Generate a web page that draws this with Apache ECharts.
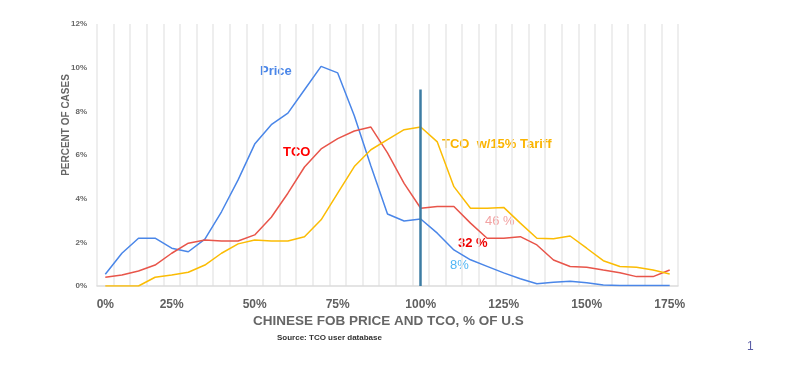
<!DOCTYPE html>
<html>
<head>
<meta charset="utf-8">
<script src="https://cdn.jsdelivr.net/npm/echarts@6/dist/echarts.min.js"></script>
<style>
html,body{margin:0;padding:0;background:#fff;}
#chart{width:800px;height:374px;}
</style>
</head>
<body>
<div id="chart"></div>
<script>
// Bins of Chinese FOB price / TCO as % of U.S.
const categories = ['0%','6%','12%','19%','25%','30%','35%','40%','45%','50%','55%','60%','65%','70%','75%','80%','85%','90%','95%','100%','105%','110%','115%','120%','125%','130%','135%','140%','145%','150%','155%','160%','165%','170%','175%'];
const tickLabels = ['0%','25%','50%','75%','100%','125%','150%','175%'];
// Percent of cases
const priceValues = [0.54,1.5,2.19,2.19,1.73,1.57,2.15,3.4,4.86,6.5,7.39,7.92,8.99,10.06,9.76,7.8,5.5,3.3,2.98,3.07,2.42,1.65,1.2,0.9,0.6,0.33,0.1,0.17,0.22,0.15,0.05,0.02,0.02,0.02,0.02];
const tcoValues = [0.4,0.5,0.69,0.96,1.5,1.96,2.11,2.06,2.06,2.34,3.15,4.25,5.45,6.28,6.75,7.1,7.28,6.1,4.7,3.56,3.64,3.64,2.88,2.19,2.19,2.26,1.88,1.19,0.89,0.86,0.73,0.61,0.43,0.43,0.73];
const tariffValues = [0,0,0,0.4,0.5,0.63,0.96,1.5,1.93,2.11,2.06,2.06,2.26,3.03,4.25,5.47,6.24,6.7,7.16,7.28,6.6,4.55,3.56,3.56,3.6,2.88,2.19,2.16,2.29,1.73,1.16,0.89,0.86,0.73,0.55];
const parityLine = { x: '100%', top: 9 };

const chart = echarts.init(document.getElementById('chart'), null, {renderer: 'canvas'});
const font = 'Liberation Sans, Arial, sans-serif';
chart.setOption({
  animation: false,
  backgroundColor: '#ffffff',
  grid: { left: 97, right: 122, top: 24, bottom: 88, containLabel: false },
  xAxis: {
    type: 'category',
    data: categories,
    boundaryGap: true,
    axisLine: { show: true, lineStyle: { color: '#dcdcdc', width: 1.5 } },
    axisTick: { show: false },
    axisLabel: {
      interval: function (i, v) { return tickLabels.indexOf(v) >= 0; },
      margin: 13, color: '#5f5f5f', fontSize: 12, fontWeight: 'bold', fontFamily: font
    },
    splitLine: { show: true, interval: 0, lineStyle: { color: '#e8e8e8', width: 1.5 } }
  },
  yAxis: {
    type: 'value',
    min: 0, max: 12, interval: 2,
    axisLine: { show: false },
    axisTick: { show: false },
    splitLine: { show: false },
    axisLabel: { formatter: '{value}%', color: '#666', fontSize: 8, fontWeight: 'bold', margin: 10, fontFamily: font }
  },
  series: [
    { name: 'Price', type: 'line', data: priceValues, symbol: 'none', lineStyle: { color: '#4a86e8', width: 1.5 }, z: 3 },
    { name: 'TCO', type: 'line', data: tcoValues, symbol: 'none', lineStyle: { color: '#e8554a', width: 1.5 }, z: 3 },
    { name: 'TCO w/15% Tariff', type: 'line', data: tariffValues, symbol: 'none', lineStyle: { color: '#fbbc04', width: 1.5 }, z: 3,
      markLine: {
        silent: true, symbol: 'none', label: { show: false },
        lineStyle: { color: '#3d7ca3', width: 2.5, type: 'solid' },
        data: [[ { coord: [parityLine.x, 0] }, { coord: [parityLine.x, parityLine.top] } ]]
      }
    }
  ],
  graphic: [
    { type: 'text', left: 260, top: 65, style: { text: 'Price', fill: '#4a86e8', font: 'bold 13px ' + font } },
    { type: 'text', left: 283, top: 146, style: { text: 'TCO', fill: '#ff0000', font: 'bold 13px ' + font } },
    { type: 'text', left: 442, top: 138, style: { text: 'TCO  w/15% Tariff', fill: '#fbb400', font: 'bold 13px ' + font } },
    { type: 'text', left: 485, top: 215, style: { text: '46 %', fill: '#f2a3a3', font: '13px ' + font } },
    { type: 'text', left: 458, top: 237, style: { text: '32 %', fill: '#ee0000', font: 'bold 13px ' + font } },
    { type: 'text', left: 450, top: 259, style: { text: '8%', fill: '#4fb6f5', font: '13px ' + font } },
    { type: 'text', left: 253, top: 314, style: { text: 'CHINESE FOB PRICE AND TCO, % OF U.S', fill: '#666', font: 'bold 13.5px ' + font } },
    { type: 'text', left: 277, top: 334, style: { text: 'Source: TCO user database', fill: '#333', font: 'bold 8px ' + font } },
    { type: 'text', left: 747, top: 341, style: { text: '1', fill: '#5b5ea6', font: '12px ' + font } },
    { type: 'text', x: 66, y: 125, rotation: Math.PI / 2, style: { text: 'PERCENT OF CASES', fill: '#666', font: 'bold 10px ' + font, align: 'center', verticalAlign: 'middle' } }
  ]
});
</script>
</body>
</html>
